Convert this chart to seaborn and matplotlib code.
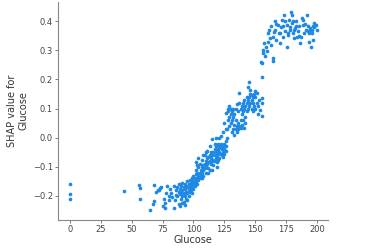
import matplotlib
matplotlib.use("Agg")
import matplotlib.pyplot as plt
import seaborn as sns
import pandas as pd

# ---- data ----
glucose_low = [0, 0, 0, 44, 56, 57, 57, 68, 65, 67, 68, 71, 70, 73, 74, 75, 77, 77, 79, 80,
               81, 82, 84, 84, 85, 86, 88, 72, 76, 78, 80, 83, 89, 91, 93, 95]
shap_low = [-0.160, -0.195, -0.210, -0.184, -0.163, -0.171, -0.211, -0.162, -0.248, -0.228,
            -0.217, -0.179, -0.186, -0.174, -0.168, -0.233, -0.242, -0.225, -0.166, -0.214,
            -0.176, -0.191, -0.166, -0.242, -0.214, -0.197, -0.228, -0.180, -0.210, -0.190,
            -0.200, -0.205, -0.235, -0.225, -0.230, -0.215]

glucose_mid = [86, 87, 87, 88, 88, 89, 89, 90, 90, 90, 91, 91, 91, 92, 92, 92, 93, 93, 93, 94,
               94, 94, 95, 95, 95, 96, 96, 96, 97, 97, 97, 98, 98, 98, 99, 99, 99, 100, 100, 100,
               100, 101, 101, 101, 102, 102, 102, 102, 103, 103, 103, 104, 104, 104, 105, 105, 105,
               106, 106, 106, 107, 107, 107, 108, 108, 108, 109, 109, 109, 110, 110, 110, 111, 111,
               111, 112, 112, 112, 113, 113, 113, 114, 114, 114, 115, 115, 115, 116, 116, 116, 117,
               117, 117, 118, 118, 118, 119, 119, 119, 120, 120, 120, 121, 121, 121, 122, 122, 122,
               123, 123, 123, 124, 124, 124, 125, 125, 125, 126, 126, 126, 118, 121, 120, 122,
               104, 107, 110, 112, 115, 117, 119, 103, 108, 113]
shap_mid = [-0.180, -0.170, -0.200, -0.185, -0.160, -0.195, -0.175, -0.210, -0.190, -0.165,
            -0.180, -0.200, -0.155, -0.170, -0.190, -0.220, -0.175, -0.160, -0.200, -0.185,
            -0.165, -0.210, -0.170, -0.190, -0.150, -0.180, -0.160, -0.200, -0.170, -0.185,
            -0.145, -0.165, -0.180, -0.155, -0.170, -0.140, -0.190, -0.160, -0.150, -0.175,
            -0.130, -0.155, -0.140, -0.165, -0.150, -0.125, -0.085, -0.110, -0.140, -0.160,
            -0.120, -0.130, -0.145, -0.100, -0.120, -0.135, -0.090, -0.110, -0.125, -0.140,
            -0.100, -0.120, -0.075, -0.095, -0.110, -0.130, -0.090, -0.105, -0.060, -0.080,
            -0.100, -0.120, -0.070, -0.090, -0.045, -0.065, -0.085, -0.105, -0.060, -0.080,
            -0.030, -0.070, -0.090, -0.050, -0.060, -0.080, -0.005, -0.050, -0.075, -0.095,
            -0.040, -0.060, -0.080, -0.050, -0.070, -0.030, -0.045, -0.065, -0.085, -0.040,
            -0.055, -0.075, -0.030, -0.050, -0.070, -0.035, -0.055, -0.020, -0.040, -0.060,
            -0.025, -0.030, -0.050, -0.065, -0.020, -0.040, -0.055, -0.030, -0.045, -0.010,
            0.000, 0.000, -0.020, 0.005,
            -0.070, -0.140, -0.050, -0.120, -0.110, -0.020, -0.100, -0.095, -0.060, -0.110]

glucose_rise = [127, 127, 128, 128, 128, 129, 129, 129, 130, 130, 130, 131, 131, 131, 132, 132,
                132, 133, 133, 133, 134, 134, 134, 135, 135, 135, 136, 136, 136, 137, 137, 137,
                138, 138, 138, 139, 139, 139, 140, 140, 140, 141, 141, 141, 142, 142, 142, 143,
                143, 143, 144, 144, 144, 145, 145, 145, 146, 146, 146, 147, 147, 147, 148, 148,
                148, 149, 149, 150, 150, 150, 151, 151, 152, 152, 153, 154, 155, 155, 155, 155,
                124, 125, 126, 126]
shap_rise = [0.000, 0.030, 0.060, 0.090, 0.100, 0.070, 0.040, 0.110, 0.080, 0.050, 0.100, 0.060,
             0.090, 0.020, 0.100, 0.070, 0.030, 0.080, 0.045, 0.010, 0.030, 0.060, 0.100, 0.040,
             0.020, 0.115, 0.050, 0.030, 0.090, 0.120, 0.040, 0.155, 0.060, 0.100, 0.035, 0.080,
             0.110, 0.045, 0.090, 0.120, 0.060, 0.100, 0.130, 0.035, 0.070, 0.110, 0.050, 0.120,
             0.090, 0.140, 0.130, 0.100, 0.175, 0.140, 0.110, 0.190, 0.150, 0.120, 0.165, 0.130,
             0.100, 0.145, 0.140, 0.120, 0.090, 0.150, 0.110, 0.140, 0.160, 0.100, 0.120, 0.155,
             0.080, 0.110, 0.130, 0.095, 0.075, 0.135, 0.120, 0.207, 0.020, 0.050, 0.085, 0.030]

glucose_high = [154.5, 155, 155.8, 156.4, 157, 157.7, 158.3, 159, 160, 160.4, 161.2, 161.8, 162.3,
                163, 164, 164.5, 164.5, 165, 165.8, 167, 168.5, 169.3, 169.9, 171.2, 172, 172.5,
                173.4, 173.9, 175.2, 175.8, 176.6, 177.4, 177.9, 178.7, 179.3, 179.8, 180.6, 181.2,
                182, 182.8, 183.3, 184.1, 185.2, 186, 186.8, 187.3, 188.2, 188.7, 189.5, 190.8,
                191.4, 192.2, 192.7, 193.5, 194.1, 194.9, 195.4, 196.2, 196.8, 197.6, 198.7, 199.5,
                166, 167, 170, 171, 174, 176, 178, 180, 181, 183, 185, 190, 194, 196, 197, 193]
shap_high = [0.261, 0.256, 0.290, 0.300, 0.324, 0.280, 0.313, 0.296, 0.330, 0.359, 0.370, 0.342,
             0.319, 0.382, 0.273, 0.264, 0.347, 0.364, 0.400, 0.336, 0.387, 0.359, 0.324, 0.405,
             0.347, 0.382, 0.422, 0.365, 0.313, 0.387, 0.353, 0.405, 0.370, 0.433, 0.422, 0.393,
             0.359, 0.342, 0.376, 0.400, 0.347, 0.365, 0.382, 0.324, 0.347, 0.410, 0.405, 0.387,
             0.359, 0.370, 0.422, 0.382, 0.365, 0.330, 0.376, 0.313, 0.359, 0.336, 0.382, 0.393,
             0.387, 0.370, 0.370, 0.390, 0.360, 0.380, 0.400, 0.360, 0.380, 0.400, 0.370, 0.385,
             0.350, 0.390, 0.370, 0.370, 0.380, 0.360]

x_ticks = [0, 25, 50, 75, 100, 125, 150, 175, 200]
y_ticks = [-0.2, -0.1, 0.0, 0.1, 0.2, 0.3, 0.4]
x_label = "Glucose"
y_label = "SHAP value for\nGlucose"

df = pd.DataFrame({
    "Glucose": glucose_low + glucose_mid + glucose_rise + glucose_high,
    "SHAP": shap_low + shap_mid + shap_rise + shap_high,
})

sns.set_style("white")
axis_color = "#333333"
fig = plt.figure(figsize=(3.71, 2.48), dpi=100)
ax = fig.add_axes([0.156, 0.113, 0.728, 0.879])
sns.scatterplot(data=df, x="Glucose", y="SHAP", ax=ax, color="#1E88E5", s=7,
                linewidth=0, alpha=1, legend=False)
ax.set_xlim(-9.5, 208.6)
ax.set_ylim(-0.2825, 0.466)
ax.set_xticks(x_ticks)
ax.set_yticks(y_ticks)
ax.set_xticklabels([str(t) for t in x_ticks])
ax.set_yticklabels([f"{t:.1f}".replace("-", "\u2212") for t in y_ticks])
ax.set_xlabel(x_label, fontsize=7, color=axis_color, labelpad=1)
ax.set_ylabel(y_label, fontsize=7, color=axis_color, labelpad=3)
ax.tick_params(axis="both", labelsize=6, colors="#666666", labelcolor="#444444",
               length=2, width=0.6, pad=1.5, bottom=True, left=True)
sns.despine(ax=ax)
for sp in ["left", "bottom"]:
    ax.spines[sp].set_color("#888888")
    ax.spines[sp].set_linewidth(0.8)
fig.savefig("out.png", dpi=100)
